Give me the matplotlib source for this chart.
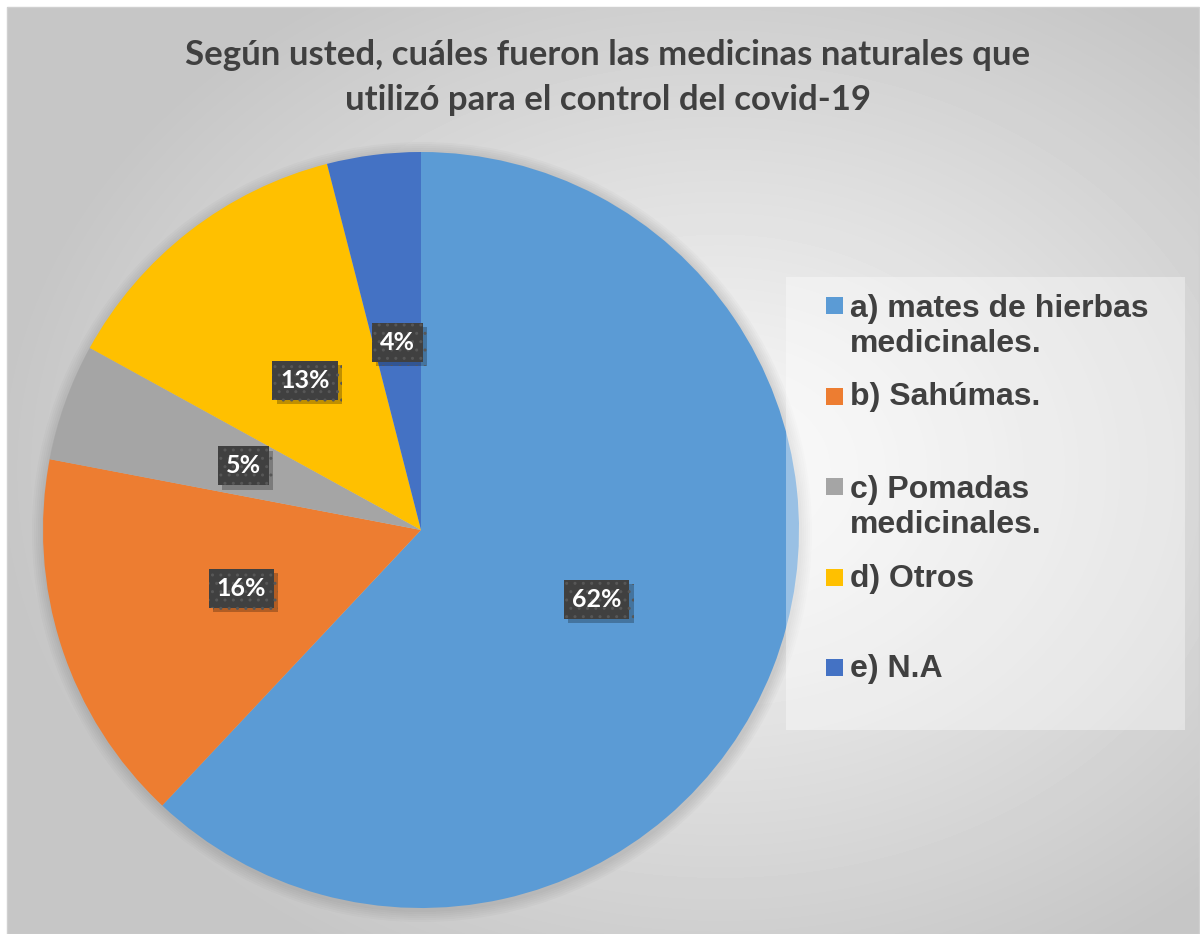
import numpy as np
import matplotlib.pyplot as plt
from matplotlib.patches import Rectangle, Circle
from matplotlib import patheffects as pe

# datos de la encuesta
categorias = ['a) mates de hierbas\nmedicinales.', 'b) Sahúmas.', 'c) Pomadas\nmedicinales.',
              'd) Otros', 'e) N.A']
porcentajes = [62, 16, 5, 13, 4]
colores = ['#5B9BD5', '#ED7D31', '#A5A5A5', '#FFC000', '#4472C4']
titulo = 'Según usted, cuáles fueron las medicinas naturales que\nutilizó para el control del covid-19'

W, H = 1200, 934
fig = plt.figure(figsize=(W / 100, H / 100), dpi=100, facecolor='white')

# fondo con degradado radial
bg = fig.add_axes([0, 0, 1, 1])
bg.axis('off')
yy, xx = np.mgrid[7:934, 7:1199]
d = np.sqrt(((xx - 720) / 720.) ** 2 + ((yy - 470) / 560.) ** 2)
g = 250 - 52 * np.clip(d, 0, 1)
bg.imshow(g, cmap='gray', vmin=0, vmax=255, extent=(7, 1199, 934, 7), aspect='auto', zorder=0)
bg.add_patch(Rectangle((7, 7), 1192, 927, fill=False, ec='#d0d0d0', lw=1))
bg.set_xlim(0, W)
bg.set_ylim(H, 0)

cx, cy, R = 421, 530, 378
# sombra suave del pastel
for k in range(1, 7):
    bg.add_patch(Circle((cx + 1, cy + 2), R + k * 2, fc='black', ec='none', alpha=0.018, zorder=1))

# pastel
ax = fig.add_axes([(cx - R) / W, (H - cy - R) / H, 2 * R / W, 2 * R / H])
wedges, texts, autotexts = ax.pie(porcentajes, colors=colores, startangle=90, counterclock=False,
                                  autopct='%1.0f%%', pctdistance=0.5,
                                  wedgeprops=dict(linewidth=0))
ax.set_xlim(-1, 1)
ax.set_ylim(-1, 1)
for t in autotexts:
    t.set_color('white')
    t.set_fontsize(18)
    t.set_fontweight('bold')
    t.set_family('Lato')
    t.set_bbox(dict(boxstyle='square,pad=0.32', fc='#404040', ec='#575757', lw=0, hatch='..'))
    t.get_bbox_patch().set_path_effects([pe.SimplePatchShadow(offset=(3, -3), shadow_rgbFace='black', alpha=0.25),
                                         pe.Normal()])

# capa superior: titulo y leyenda
top = fig.add_axes([0, 0, 1, 1])
top.set_facecolor('none')
top.axis('off')
top.set_xlim(0, W)
top.set_ylim(H, 0)

top.text(608, 110, titulo, ha='center', va='baseline', ma='center', fontsize=25,
         fontweight='bold', family='Lato', color='#404040', linespacing=1.5)

top.add_patch(Rectangle((786, 277), 399, 453, fc='white', alpha=0.38, ec='none'))
for i, (lab, col) in enumerate(zip(categorias, colores)):
    yb = 315 + i * 90.5
    nl = lab.count('\n')
    top.add_patch(Rectangle((826, yb - 18), 17, 17, fc=col, ec='none'))
    top.text(850, yb + nl * 37, lab, ha='left', va='baseline', fontsize=23, fontweight='bold',
             family='Liberation Sans', color='#404040', linespacing=1.21)

fig.savefig('out.png', dpi=100, facecolor='white')
